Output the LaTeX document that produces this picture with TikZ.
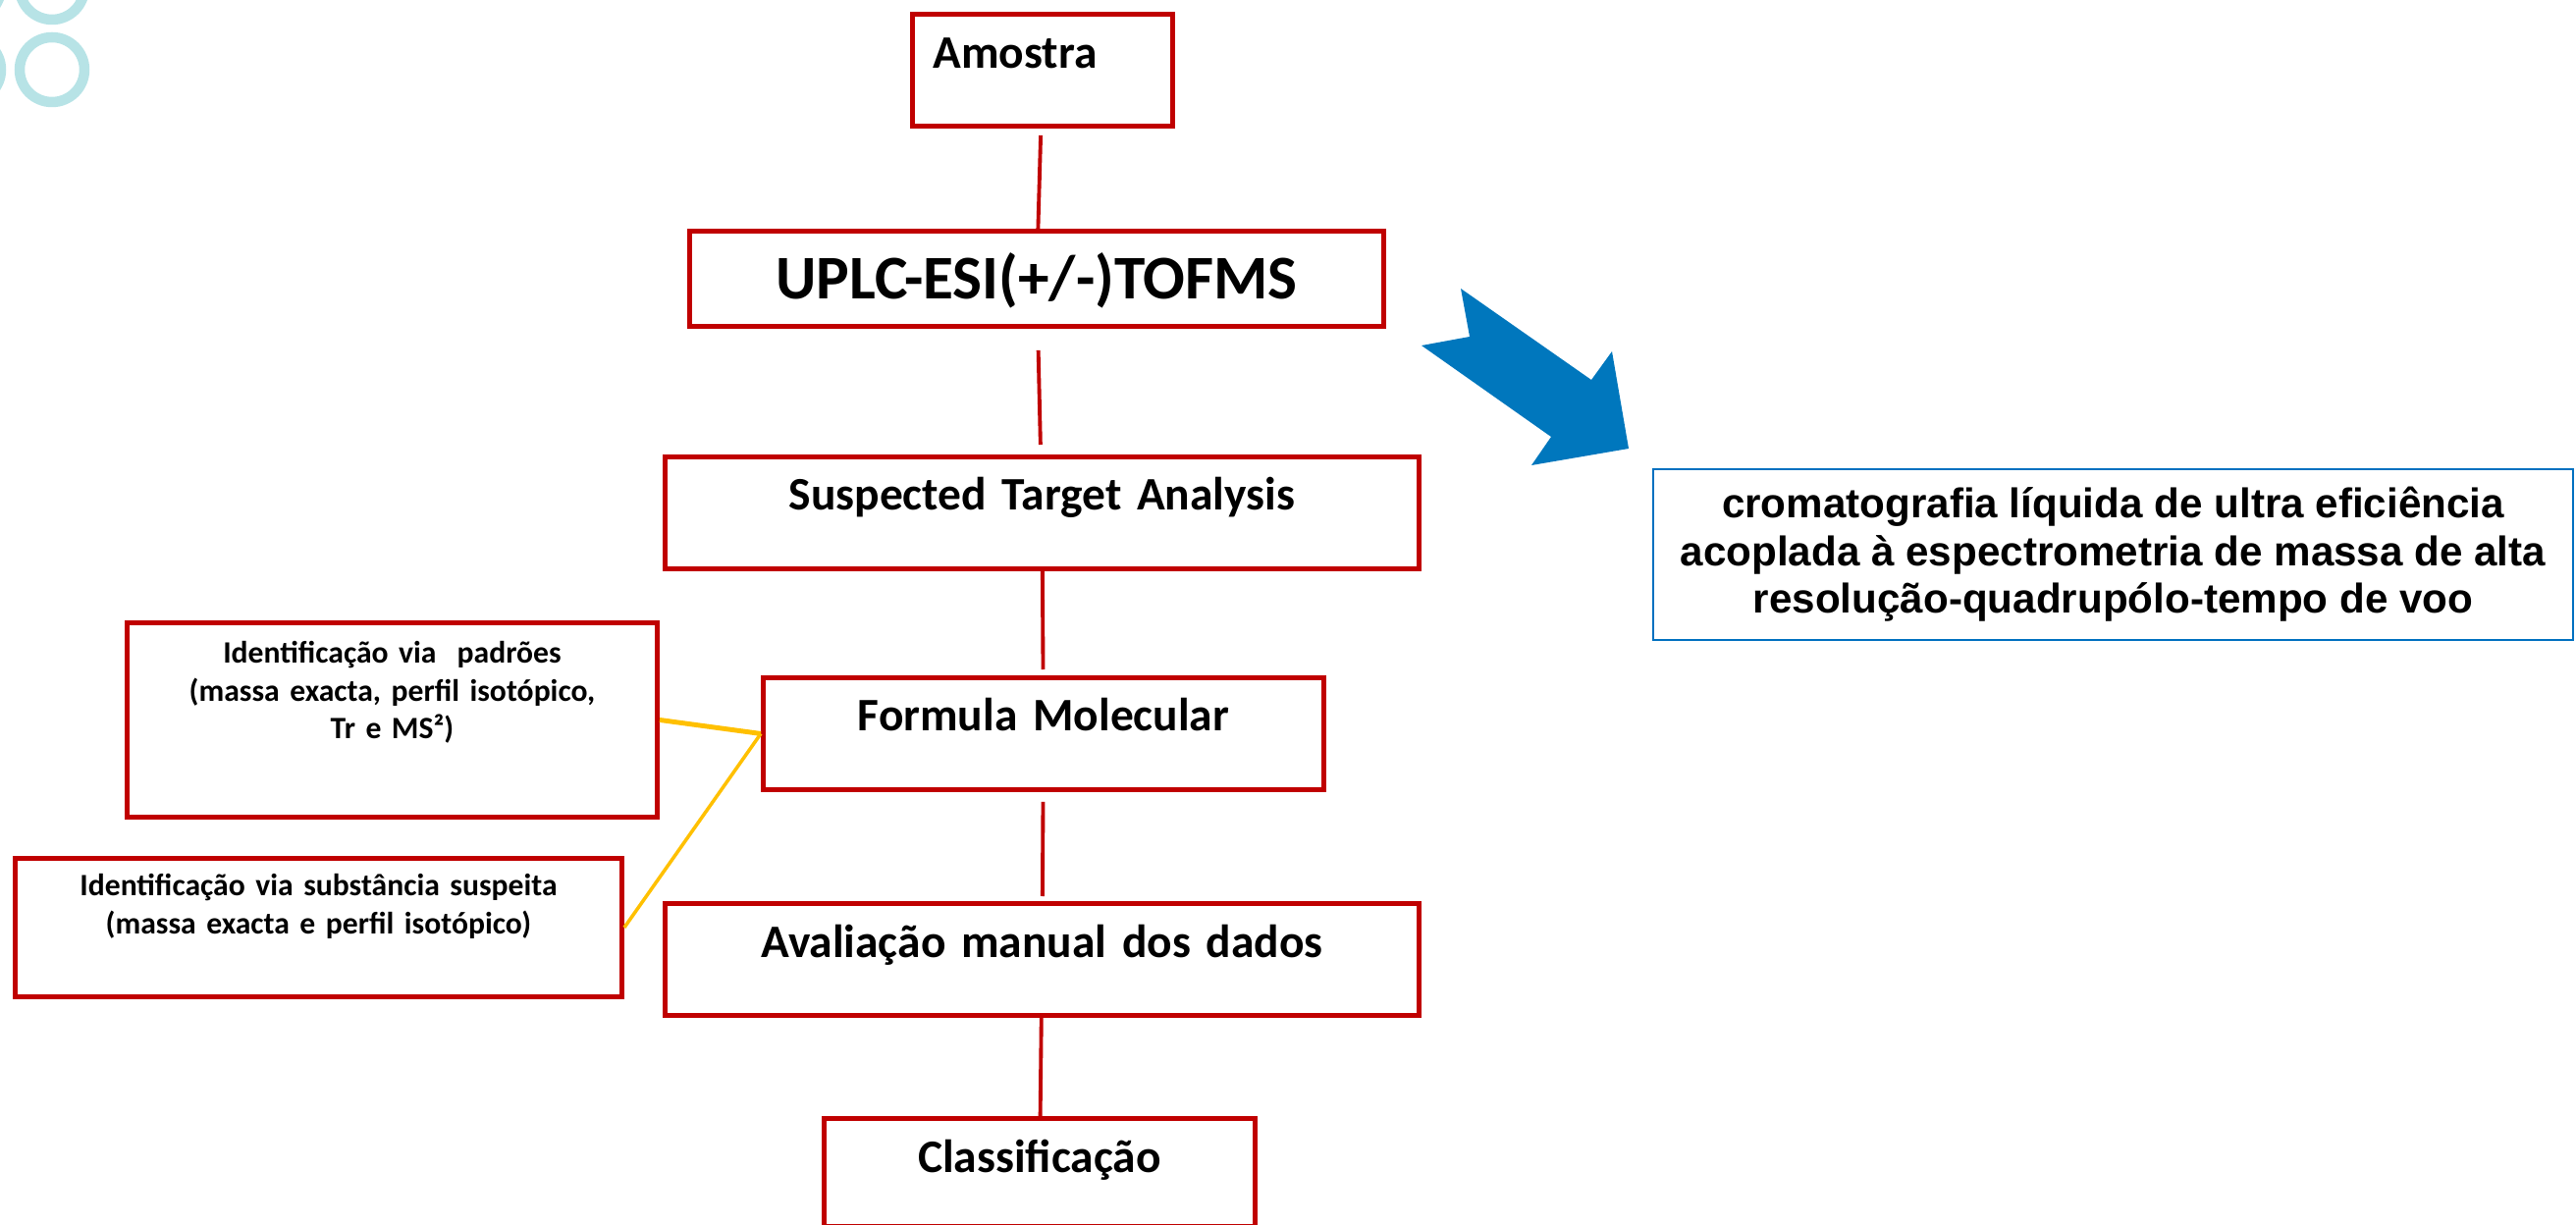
\documentclass[tikz,border=0pt]{standalone}
\usepackage{fontspec}
\setmainfont{Carlito}
\newfontfamily\arialfont{Liberation Sans}
\usepackage{tikz}

\definecolor{boxred}{HTML}{C00000}
\definecolor{linkyellow}{HTML}{FFC000}
\definecolor{arrowblue}{HTML}{0077BD}
\definecolor{descblue}{HTML}{0070C0}
\definecolor{ringteal}{HTML}{B7E3E6}

\begin{document}
\begin{tikzpicture}
		[x=1cm,y=-1cm,every node/.style={draw=boxred,line width=1.4pt,inner sep=0pt,anchor=north west,align=center,font=\bfseries\fontsize{13.5}{16}\selectfont},link/.style={draw=boxred,line width=1.1pt},side/.style={draw=linkyellow,line width=1.2pt}]
		\useasboundingbox (0,0) rectangle (26.24,12.48);
		
		\foreach \cx/\cy in {0.53/-0.13,0.53/0.71,-0.32/0.71,-0.32/-0.13}
		\draw[ringteal,line width=0.105cm] (\cx,\cy) circle (0.33);
		
		\node[text width=2.23cm,inner xsep=0.21cm,align=left,text height=0.55cm,text depth=0.59cm] (amo) at (9.27,0.12) {Amostra};
		\node[text width=7.07cm,text height=0.69cm,text depth=0.28cm,font=\bfseries\fontsize{18}{22}\selectfont] (uplc) at (7.00,2.33) {UPLC-ESI(+/-)TOFMS};
		\node[text width=7.68cm,text height=0.54cm,text depth=0.60cm] (sta) at (6.75,4.63) {Suspected Target Analysis};
		\node[text width=5.71cm,text height=0.54cm,text depth=0.60cm] (fm) at (7.75,6.88) {Formula Molecular};
		\node[text width=7.68cm,text height=0.55cm,text depth=0.59cm] (amd) at (6.75,9.18) {Avaliação manual dos dados};
		\node[text width=4.39cm,text height=0.55cm,text depth=0.55cm] (cls) at (8.37,11.37) {Classificação};
		\node[text width=5.40cm,text height=0.41cm,text depth=1.57cm,font=\bfseries\fontsize{9}{11}\selectfont] (pad) at (1.27,6.32) {Identificação via~ padrões\\(massa exacta, perfil isotópico,\\Tr e MS²)};
		\node[text width=6.18cm,text height=0.38cm,text depth=1.03cm,font=\bfseries\fontsize{9}{11}\selectfont] (sus) at (0.13,8.72) {Identificação via substância suspeita\\(massa exacta e perfil isotópico)};
		\node[draw=descblue,line width=0.6pt,anchor=center,minimum width=9.37cm,minimum height=1.74cm,font=\arialfont\bfseries\fontsize{12}{13.8}\selectfont] (desc) at (21.525,5.65) {cromatografia líquida de ultra eficiência\\acoplada à espectrometria de massa de alta\\resolução-quadrupólo-tempo de voo};
		
		\foreach \from/\to/\a/\b in {amo/uplc/0.07/0,uplc/sta/0.22/0.1,sta/fm/0/0.06,fm/amd/0.1/0.05,amd/cls/0/0}
		\draw[link,shorten <=\a cm,shorten >=\b cm] (\from) -- (\to);
		
		\draw[side,line width=1.4pt] (pad.east) -- (fm.west);
		\draw[side,line width=1pt] (sus.east) -- (fm.west);
		
		\fill[arrowblue] (14.88,2.94) -- (14.97,3.43) -- (14.48,3.52) -- (15.80,4.45) -- (15.60,4.74) -- (16.59,4.57) -- (16.42,3.58) -- (16.21,3.87) -- cycle;
		\end{tikzpicture}
\end{document}
